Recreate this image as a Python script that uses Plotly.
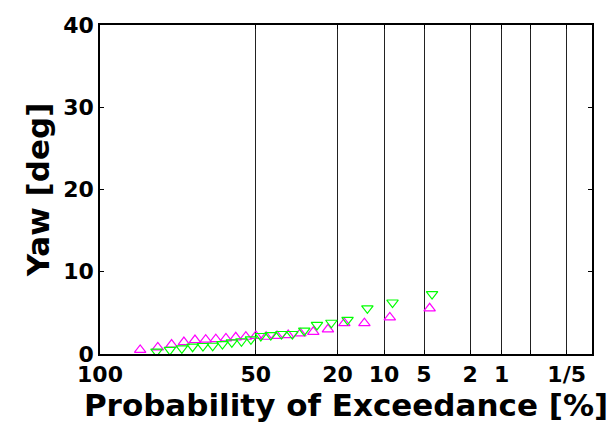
import numpy as np
import plotly.graph_objects as go

# Probability of exceedance [%] (plotting positions) and yaw [deg]
pink_exceed = [95.5, 90.9, 86.4, 81.8, 77.3, 72.7, 68.2, 63.6, 59.1, 54.5, 50.0,
               45.5, 40.9, 36.4, 31.8, 27.3, 22.7, 18.2, 13.6, 9.1, 4.5]
pink_yaw = [0.5, 0.8, 1.15, 1.45, 1.7, 1.75, 1.8, 1.9, 2.03, 2.1, 2.2,
            2.1, 2.2, 2.3, 2.5, 2.7, 3.0, 3.75, 3.75, 4.45, 5.55]

green_exceed = [91.3, 87.0, 82.6, 78.3, 73.9, 69.6, 65.2, 60.9, 56.5, 52.2, 47.8,
                43.5, 39.1, 34.8, 30.4, 26.1, 21.7, 17.4, 13.0, 8.7, 4.3]
green_yaw = [0.3, 0.49, 0.69, 0.89, 0.97, 1.0, 1.2, 1.42, 1.55, 1.78, 2.19,
             2.3, 2.43, 2.43, 2.83, 3.53, 3.8, 4.15, 5.55, 6.26, 7.28]

# Rayleigh probability paper: axis coordinate = sqrt(-ln(q))
tick_exceed = [100, 50, 20, 10, 5, 2, 1, 0.5, 0.2]
tick_text = ["100", "50", "20", "10", "5", "2", "1", "", "1/5"]
x_max_exceed = 0.1


def rayleigh(q_percent):
    q = np.asarray(q_percent, dtype=float) / 100.0
    return np.sqrt(-np.log(q))


font_family = "DejaVu Sans"

fig = go.Figure()
fig.add_trace(go.Scatter(
    x=rayleigh(pink_exceed), y=pink_yaw, mode="markers",
    marker=dict(symbol="triangle-up-open", size=10, color="#FF00FF",
                line=dict(width=1.2, color="#FF00FF")),
    showlegend=False, cliponaxis=True,
))
fig.add_trace(go.Scatter(
    x=rayleigh(green_exceed), y=green_yaw, mode="markers",
    marker=dict(symbol="triangle-down-open", size=10, color="#00FF00",
                line=dict(width=1.2, color="#00FF00")),
    showlegend=False, cliponaxis=True,
))

fig.update_layout(
    width=615, height=428,
    margin=dict(l=100, r=23, t=25, b=74),
    paper_bgcolor="white", plot_bgcolor="white",
    font=dict(family=font_family, color="black"),
)

fig.update_xaxes(
    range=[0, float(rayleigh(x_max_exceed))],
    tickmode="array", tickvals=rayleigh(tick_exceed).tolist(), ticktext=tick_text,
    showgrid=True, gridcolor="#222222", gridwidth=1,
    zeroline=False,
    showline=True, linecolor="black", linewidth=1.5, mirror="ticks",
    ticks="inside", ticklen=4, tickcolor="black",
    tickfont=dict(family=font_family, size=22, weight="bold"),
    title=dict(text="Probability of Exceedance [%]",
               font=dict(family=font_family, size=31, weight="bold"),
               standoff=2),
)
fig.update_yaxes(
    range=[0, 40],
    tickmode="array", tickvals=[0, 10, 20, 30, 40],
    showgrid=False, zeroline=False,
    showline=True, linecolor="black", linewidth=1.5, mirror="ticks",
    ticks="inside", ticklen=4, tickcolor="black",
    tickfont=dict(family=font_family, size=22, weight="bold"),
    title=dict(text="Yaw [deg]",
               font=dict(family=font_family, size=31, weight="bold"),
               standoff=4),
)

fig.write_html("out.html")
